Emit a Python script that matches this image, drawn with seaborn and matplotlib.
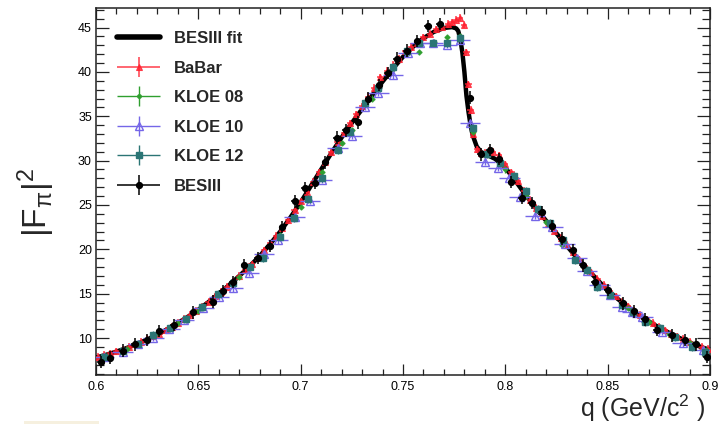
import numpy as np
import pandas as pd
import matplotlib
matplotlib.use("Agg")
import matplotlib.pyplot as plt
import seaborn as sns
from matplotlib.ticker import MultipleLocator, FuncFormatter
from matplotlib.legend_handler import HandlerErrorbar
from matplotlib.lines import Line2D
from matplotlib.patches import Rectangle

# ---- BESIII fit curve -------------------------------------------------------
fit_q = [0.600, 0.605, 0.610, 0.615, 0.620, 0.625, 0.630, 0.635, 0.640, 0.645,
         0.650, 0.655, 0.660, 0.665, 0.670, 0.675, 0.680, 0.685, 0.690, 0.695,
         0.700, 0.705, 0.710, 0.715, 0.720, 0.725, 0.730, 0.735, 0.740, 0.745,
         0.750, 0.755, 0.760, 0.765, 0.770, 0.774, 0.776, 0.777, 0.778, 0.779,
         0.780, 0.781, 0.782, 0.783, 0.784, 0.786, 0.788, 0.790, 0.795, 0.800,
         0.805, 0.810, 0.815, 0.820, 0.825, 0.830, 0.835, 0.840, 0.845, 0.850,
         0.855, 0.860, 0.865, 0.870, 0.875, 0.880, 0.885, 0.890, 0.895, 0.900]
fit_f = [7.80, 8.12, 8.48, 8.88, 9.33, 9.84, 10.40, 11.02, 11.70, 12.42,
         13.20, 14.07, 15.00, 15.97, 17.00, 18.08, 19.25, 20.58, 22.00, 23.60,
         25.30, 27.15, 29.00, 30.85, 32.60, 34.25, 35.80, 37.38, 38.90, 40.35,
         41.70, 42.85, 43.80, 44.50, 44.95, 45.05, 44.90, 44.60, 43.70, 42.20,
         40.00, 37.30, 35.50, 34.00, 32.90, 31.60, 31.00, 30.75, 30.20, 29.20,
         27.70, 26.10, 24.60, 23.20, 21.80, 20.40, 19.05, 17.80, 16.55, 15.40,
         14.40, 13.50, 12.65, 11.90, 11.20, 10.60, 10.02, 9.50, 9.05, 8.65]

# ---- BaBar ------------------------------------------------------------------
babar_q = [0.601, 0.604, 0.607, 0.610, 0.613, 0.616, 0.619, 0.622, 0.625, 0.628,
           0.631, 0.634, 0.637, 0.640, 0.643, 0.646, 0.649, 0.652, 0.655, 0.658,
           0.661, 0.664, 0.667, 0.670, 0.673, 0.676, 0.679, 0.682, 0.685, 0.688,
           0.691, 0.694, 0.697, 0.700, 0.703, 0.706, 0.709, 0.712, 0.715, 0.718,
           0.721, 0.724, 0.727, 0.730, 0.733, 0.736, 0.739, 0.742, 0.745, 0.748,
           0.751, 0.754, 0.757, 0.760, 0.763, 0.766, 0.769, 0.772, 0.774, 0.776,
           0.778, 0.780, 0.781, 0.782, 0.783, 0.784, 0.786, 0.788, 0.790, 0.792,
           0.794, 0.797, 0.800, 0.803, 0.806, 0.809, 0.812, 0.815, 0.818, 0.821,
           0.824, 0.827, 0.830, 0.833, 0.836, 0.839, 0.842, 0.845, 0.848, 0.851,
           0.854, 0.857, 0.860, 0.863, 0.866, 0.869, 0.872, 0.875, 0.878, 0.881,
           0.884, 0.887, 0.890, 0.893, 0.896, 0.899]
babar_f = [7.9, 8.1, 8.3, 8.5, 8.7, 9.0, 9.3, 9.6, 9.9, 10.2,
           10.5, 10.9, 11.3, 11.7, 12.2, 12.6, 13.1, 13.6, 14.1, 14.7,
           15.2, 15.8, 16.4, 17.0, 17.7, 18.3, 19.1, 19.9, 20.7, 21.5,
           22.4, 23.3, 24.4, 25.4, 26.5, 27.6, 28.7, 29.8, 31.0, 32.1,
           33.1, 34.2, 35.2, 36.1, 37.2, 38.2, 39.4, 40.1, 40.8, 41.5,
           42.3, 42.8, 43.3, 43.9, 44.3, 44.8, 45.1, 45.4, 45.6, 45.9,
           46.1, 45.3, 42.2, 38.6, 35.7, 33.0, 31.3, 30.9, 30.9, 31.1,
           31.0, 30.6, 29.6, 28.7, 27.7, 26.6, 25.6, 24.7, 23.8, 22.9,
           22.1, 21.3, 20.5, 19.7, 18.9, 18.1, 17.4, 16.7, 16.0, 15.3,
           14.7, 14.1, 13.6, 13.1, 12.6, 12.1, 11.7, 11.3, 10.9, 10.5,
           10.2, 9.9, 9.6, 9.3, 9.0, 8.8]

# ---- KLOE 08 ----------------------------------------------------------------
kloe08_q = [0.605, 0.615, 0.625, 0.6305, 0.640, 0.650, 0.660, 0.670, 0.680, 0.690,
            0.700, 0.7105, 0.720, 0.725, 0.735, 0.745, 0.752, 0.758, 0.765, 0.7715,
            0.778, 0.784, 0.790, 0.800, 0.810, 0.820, 0.8277, 0.840, 0.850, 0.860,
            0.870, 0.880, 0.890, 0.898]
kloe08_f = [8.0, 8.8, 9.8, 10.6, 11.7, 13.1, 15.0, 16.9, 19.0, 21.6,
            24.8, 28.7, 32.0, 33.4, 37.0, 40.3, 42.0, 42.2, 43.4, 43.9,
            44.0, 33.2, 30.6, 29.0, 26.0, 23.1, 20.5, 17.6, 15.3, 13.4,
            11.8, 10.5, 9.4, 8.7]

# ---- KLOE 10 ----------------------------------------------------------------
kloe10_q = [0.604, 0.613, 0.6205, 0.628, 0.6358, 0.643, 0.6525, 0.660, 0.667, 0.6747,
            0.682, 0.689, 0.697, 0.7045, 0.7105, 0.718, 0.725, 0.7315, 0.738, 0.745,
            0.7524, 0.7583, 0.7647, 0.7715, 0.7778, 0.7827, 0.790, 0.7965, 0.802, 0.807,
            0.8145, 0.823, 0.829, 0.835, 0.840, 0.846, 0.851, 0.857, 0.862, 0.867,
            0.8765, 0.8866, 0.8965]
kloe10_f = [7.9, 8.4, 9.3, 10.0, 11.0, 12.0, 13.4, 14.6, 15.6, 17.3,
            19.5, 21.0, 23.6, 25.5, 27.8, 31.4, 32.8, 36.0, 37.6, 39.6,
            42.1, 43.2, 43.3, 43.0, 43.6, 34.2, 29.9, 29.2, 28.0, 25.9,
            23.8, 22.5, 20.6, 19.0, 17.6, 16.0, 14.9, 13.5, 12.9, 12.4,
            10.7, 9.4, 8.65]

# ---- KLOE 12 ----------------------------------------------------------------
kloe12_q = [0.604, 0.613, 0.6205, 0.628, 0.636, 0.644, 0.652, 0.6597, 0.667, 0.675,
            0.6815, 0.690, 0.6965, 0.7035, 0.7105, 0.718, 0.724, 0.7315, 0.738, 0.745,
            0.752, 0.758, 0.7647, 0.7715, 0.778, 0.7843, 0.791, 0.7975, 0.804, 0.810,
            0.816, 0.822, 0.828, 0.834, 0.840, 0.845, 0.851, 0.857, 0.8624, 0.868,
            0.8755, 0.883, 0.891, 0.8975]
kloe12_f = [7.9, 8.5, 9.3, 10.3, 11.1, 12.2, 13.5, 15.0, 16.2, 18.0,
            19.0, 21.4, 23.5, 25.7, 28.0, 31.2, 33.2, 36.5, 38.2, 40.5,
            42.4, 43.2, 43.2, 43.2, 43.8, 33.7, 30.8, 29.7, 28.3, 26.6,
            24.6, 23.0, 21.0, 18.8, 17.7, 15.8, 14.9, 13.7, 12.9, 11.8,
            11.1, 10.1, 9.0, 8.4]

# ---- BESIII -----------------------------------------------------------------
besiii_q = [0.6025, 0.607, 0.613, 0.619, 0.625, 0.631, 0.638, 0.6475, 0.657, 0.662,
            0.667, 0.6725, 0.679, 0.685, 0.691, 0.697, 0.702, 0.707, 0.712, 0.7177,
            0.722, 0.728, 0.733, 0.7385, 0.7427, 0.747, 0.752, 0.757, 0.7623, 0.768,
            0.7827, 0.788, 0.7925, 0.797, 0.803, 0.808, 0.813, 0.818, 0.823, 0.8277,
            0.833, 0.838, 0.8438, 0.850, 0.8575, 0.863, 0.868, 0.874, 0.8815, 0.8877,
            0.893, 0.8985]
besiii_f = [7.3, 7.8, 8.6, 9.3, 9.8, 10.8, 11.5, 12.9, 14.1, 15.3,
            16.3, 18.2, 19.0, 20.4, 22.5, 25.4, 26.9, 27.5, 29.8, 32.6,
            33.4, 34.3, 37.0, 38.5, 39.9, 41.5, 42.4, 43.5, 45.2, 45.4,
            37.1, 30.7, 31.2, 30.2, 27.6, 25.8, 25.2, 24.2, 22.6, 21.2,
            19.9, 18.2, 16.3, 15.4, 13.9, 13.0, 12.1, 10.9, 10.3, 9.8,
            9.3, 7.9]

legend_labels = ["BESIII fit", "BaBar", "KLOE 08", "KLOE 10", "KLOE 12", "BESIII"]

# ---- styling ----------------------------------------------------------------
sns.set_theme(style="ticks")
plt.rcParams["font.family"] = ["Liberation Sans", "DejaVu Sans"]
plt.rcParams["mathtext.fontset"] = "custom"
plt.rcParams["mathtext.rm"] = "Liberation Sans"
plt.rcParams["mathtext.it"] = "Liberation Sans:italic"
plt.rcParams["mathtext.bf"] = "Liberation Sans:bold"

fig = plt.figure(figsize=(7.22, 4.24), dpi=100)
fig.patch.set_facecolor("white")
ax = fig.add_axes([96 / 722, 1 - 375 / 424, 614 / 722, 367 / 424])
ax.set_facecolor("white")

c_babar = "#ff1f2f"
c_k08 = "#2f9f2f"
c_k10 = "#7566e8"
c_k12 = "#2b7575"
c_bes = "#000000"

# fit curve underneath, BaBar points drawn over it
fit_df = pd.DataFrame({"q": fit_q, "F2": fit_f})
sns.lineplot(data=fit_df, x="q", y="F2", ax=ax, color="black", linewidth=3.2,
             sort=False, estimator=None, legend=False, zorder=3)
fit_handle = Line2D([], [], color="black", linewidth=4.0)

eb_babar = ax.errorbar(babar_q, babar_f, xerr=0.0015, yerr=0.4, fmt="^",
                       color=c_babar, ms=5.0, mew=0.8, elinewidth=1.2,
                       alpha=0.8, zorder=4)
eb_k08 = ax.errorbar(kloe08_q, kloe08_f, xerr=0.0015, yerr=0.35, fmt="o",
                     color=c_k08, ms=2.5, elinewidth=1.0, zorder=5)
eb_k10 = ax.errorbar(kloe10_q, kloe10_f, xerr=0.005, yerr=0.35, fmt="^",
                     color=c_k10, mfc="none", mec=c_k10, ms=5.5, mew=1.0,
                     elinewidth=1.0, zorder=6)
eb_k12 = ax.errorbar(kloe12_q, kloe12_f, xerr=0.0015, yerr=0.45, fmt="s",
                     color=c_k12, ms=4.5, elinewidth=1.0, zorder=6)
eb_bes = ax.errorbar(besiii_q, besiii_f, xerr=0.0018, yerr=0.7, fmt="o",
                     color=c_bes, ms=4.2, elinewidth=1.1, zorder=7)

ax.set_xlim(0.6, 0.9)
ax.set_ylim(5.84, 47.2)
ax.set_xlabel("")
ax.set_ylabel("")

ax.xaxis.set_major_locator(MultipleLocator(0.05))
ax.xaxis.set_minor_locator(MultipleLocator(0.01))
ax.yaxis.set_major_locator(MultipleLocator(5))
ax.yaxis.set_minor_locator(MultipleLocator(1))
ax.xaxis.set_major_formatter(FuncFormatter(lambda v, p: f"{v:g}"))
ax.yaxis.set_major_formatter(FuncFormatter(lambda v, p: f"{v:g}"))

ax.tick_params(axis="both", which="both", direction="in", top=True, right=True,
               colors="#222222", labelcolor="black", labelsize=9, width=0.9)
ax.tick_params(axis="x", which="major", length=8, pad=4)
ax.tick_params(axis="x", which="minor", length=4)
ax.tick_params(axis="y", which="major", length=9.5, pad=3)
ax.tick_params(axis="y", which="minor", length=5.5)
for s in ax.spines.values():
    s.set_visible(True)
    s.set_color("#222222")
    s.set_linewidth(1.1)

handler = HandlerErrorbar(xerr_size=1.3, yerr_size=0.6, numpoints=1)
leg = ax.legend([fit_handle, eb_babar, eb_k08, eb_k10, eb_k12, eb_bes],
                legend_labels, loc="upper left",
                bbox_to_anchor=(0.034, 0.937), frameon=False,
                prop={"weight": "bold", "size": 12}, handlelength=2.6,
                handletextpad=0.8, labelspacing=0.87, borderpad=0,
                borderaxespad=0,
                handler_map={type(eb_babar): handler})
leg.set_zorder(10)

fig.text(36 / 722, 1 - 202 / 424, r"$|\mathrm{F}_{\mathrm{π}}|^{2}$",
         rotation=90, fontsize=24, ha="center", va="center")
fig.text(705 / 722, 0.5 / 424, r"q (GeV/c$^{2}$ )", ha="right", va="bottom",
         fontsize=18)

fig.patches.append(Rectangle((24 / 722, 0), 75 / 722, 3 / 424,
                             transform=fig.transFigure, facecolor="#f6f0df",
                             edgecolor="none"))

fig.savefig("out.png", dpi=100, facecolor="white")
